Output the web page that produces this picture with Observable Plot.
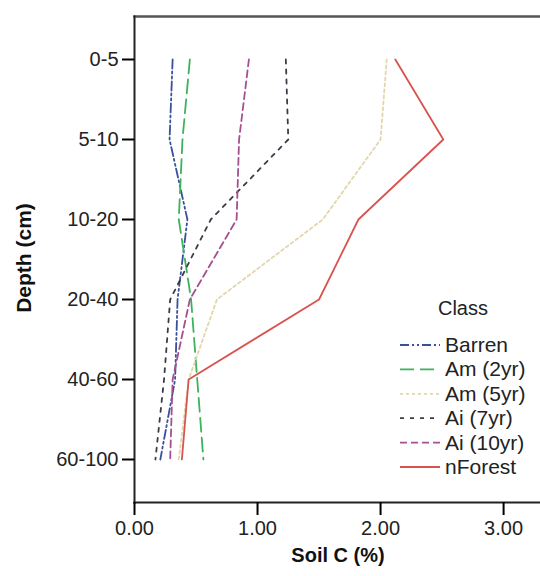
<!DOCTYPE html>
<html>
<head>
<meta charset="utf-8">
<script src="https://cdn.jsdelivr.net/npm/d3@7"></script>
<script src="https://cdn.jsdelivr.net/npm/@observablehq/plot@0.6"></script>
<style>
  html, body { margin: 0; padding: 0; background: #fff; }
  #wrap { position: relative; width: 540px; height: 576px; overflow: hidden; font-family: "Liberation Sans", Arial, sans-serif; }
  #legend { position: absolute; left: 0; top: 0; }
</style>
</head>
<body>
<div id="wrap"></div>
<script>
const depths = ["0-5", "5-10", "10-20", "20-40", "40-60", "60-100"];
const classes = ["Barren", "Am (2yr)", "Am (5yr)", "Ai (7yr)", "Ai (10yr)", "nForest"];
const barren  = [0.31, 0.285, 0.43, 0.35, 0.33, 0.21];
const am2yr   = [0.45, 0.39, 0.36, 0.46, 0.51, 0.56];
const am5yr   = [2.05, 2.00, 1.53, 0.67, 0.44, 0.36];
const ai7yr   = [1.23, 1.25, 0.62, 0.29, 0.24, 0.17];
const ai10yr  = [0.93, 0.85, 0.83, 0.45, 0.31, 0.29];
const nForest = [2.12, 2.51, 1.82, 1.50, 0.44, 0.385];
const xTicks = [0, 1, 2, 3];

const seriesValues = [barren, am2yr, am5yr, ai7yr, ai10yr, nForest];
const colors = ["#3b4f9a", "#3cb35a", "#e2d6ab", "#3c3c48", "#a5508f", "#d9534f"];
const dashes = ["9,3,2,3,2,3", "14,6", "3,3", "4,6", "7,4", null];

const rows = [];
classes.forEach((c, i) => depths.forEach((d, j) => rows.push({cls: c, depth: d, value: seriesValues[i][j]})));

const font = "Liberation Sans, Arial, sans-serif";

const marks = [
  Plot.frame({anchor: "top", stroke: "#555", strokeWidth: 2.5}),
  Plot.frame({anchor: "left", stroke: "#222", strokeWidth: 2}),
  Plot.frame({anchor: "bottom", stroke: "#222", strokeWidth: 2}),
  Plot.axisX({ticks: xTicks, tickFormat: d3.format(".2f"), tickSize: 13, tickPadding: 5, fontSize: 20, strokeWidth: 2, label: null, fill: "#222"}),
  Plot.axisY({tickSize: 12, tickPadding: 4, fontSize: 20, strokeWidth: 2, label: null, fill: "#222"})
];
classes.forEach((c, i) => {
  marks.push(Plot.line(rows.filter(r => r.cls === c), {
    x: "value", y: "depth",
    stroke: colors[i], strokeWidth: 1.8,
    strokeDasharray: dashes[i] || undefined
  }));
});

const chart = Plot.plot({
  width: 540, height: 576,
  marginLeft: 134, marginRight: 0, marginTop: 16, marginBottom: 74,
  style: {fontFamily: font, background: "#fff"},
  x: {domain: [0, 3.3]},
  y: {type: "point", domain: depths, padding: 0.52},
  marks
});
document.getElementById("wrap").appendChild(chart);

// Axis titles
const svg = d3.select(chart);
svg.append("text")
  .attr("x", 338).attr("y", 562)
  .attr("text-anchor", "middle")
  .attr("font-family", font).attr("font-weight", "bold").attr("font-size", 20)
  .attr("fill", "#111")
  .text("Soil C (%)");
svg.append("text")
  .attr("transform", "translate(31,258) rotate(-90)")
  .attr("text-anchor", "middle")
  .attr("font-family", font).attr("font-weight", "bold").attr("font-size", 21)
  .attr("fill", "#111")
  .text("Depth (cm)");

// Legend
const leg = d3.select("#wrap").append("svg")
  .attr("id", "legend").attr("width", 540).attr("height", 576)
  .style("pointer-events", "none");
leg.append("text")
  .attr("x", 463).attr("y", 315)
  .attr("text-anchor", "middle")
  .attr("font-family", font).attr("font-size", 20).attr("fill", "#222")
  .text("Class");
classes.forEach((c, i) => {
  const cy = 345 + i * 24.4;
  leg.append("line")
    .attr("x1", 400).attr("x2", 440).attr("y1", cy).attr("y2", cy)
    .attr("stroke", colors[i]).attr("stroke-width", 1.8)
    .attr("stroke-dasharray", dashes[i]);
  leg.append("text")
    .attr("x", 445).attr("y", cy + 7)
    .attr("font-family", font).attr("font-size", 21).attr("fill", "#222")
    .text(c);
});
</script>
</body>
</html>
